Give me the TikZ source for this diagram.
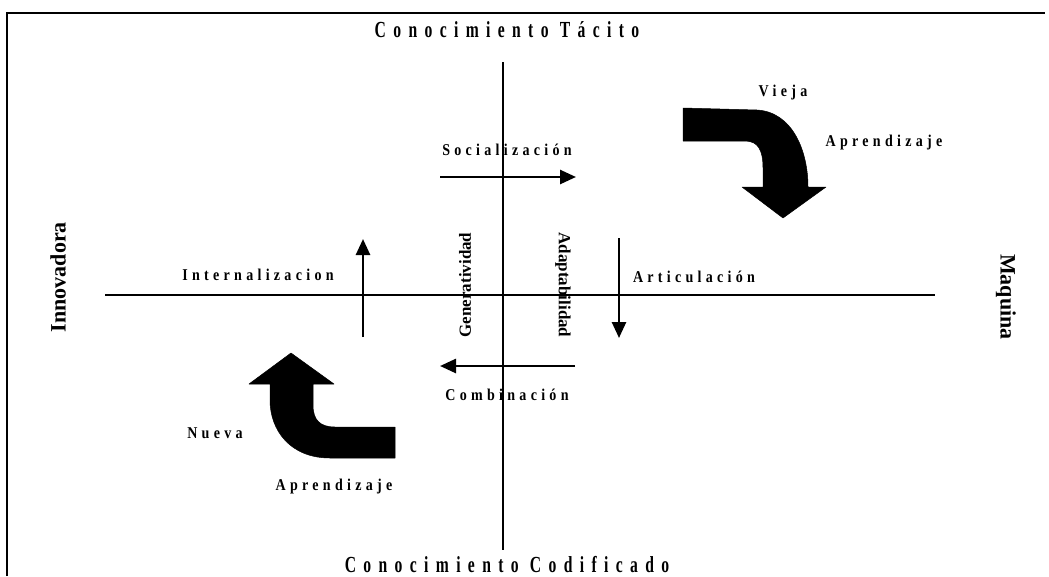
\documentclass[tikz,border=0pt]{standalone}
\usepackage{fontspec}
\setmainfont{Liberation Serif}
\newfontfamily\spacedfont[LetterSpace=26,FakeStretch=0.85]{Liberation Serif}
\newfontfamily\titlefont[LetterSpace=32,FakeStretch=0.68]{Liberation Serif}
\usetikzlibrary{arrows.meta}

\tikzset{
  axisline/.style={line width=1.2pt},
  flow/.style={line width=2.6pt, -{Triangle[length=16pt,width=14pt]}},
  bigarrow/.style={fill=black, draw=black, line width=0.5pt, line join=round},
  titletext/.style={inner sep=0pt, font=\titlefont\bfseries\fontsize{23}{27}\selectfont},
  sidetext/.style={inner sep=0pt, font=\bfseries\fontsize{22}{26}\selectfont},
  midtext/.style={inner sep=0pt, font=\bfseries\fontsize{17}{20}\selectfont},
  spaced/.style={inner sep=0pt, font=\spacedfont\bfseries\fontsize{16.5}{19}\selectfont}
}

\begin{document}
\begin{tikzpicture}[x=1pt, y=-1pt]
    \useasboundingbox (0,0) rectangle (1049,576);

    % Frame
    \draw[line width=1.6pt] (7,576) -- (7,13) -- (1045,13);

    % Axes
    \coordinate (axtop) at (503,62);
    \coordinate (axbot) at (503,550);
    \coordinate (axleft) at (105,295);
    \coordinate (axright) at (935,295);
    \draw[axisline] (axtop) -- (axbot);
    \draw[axisline] (axleft) -- (axright);

    % Axis labels
    \node[titletext] (tacito) at (507,30) {Conocimiento Tácito};
    \node[titletext] (codificado) at (507,565) {Conocimiento Codificado};
    \node[sidetext, rotate=90] (innovadora) at (58,277) {Innovadora};
    \node[sidetext, rotate=-90] (maquina) at (1006,297) {Maquina};
    \node[midtext, rotate=90] (generatividad) at (465,285) {Generatividad};
    \node[midtext, rotate=-90] (adaptabilidad) at (563,285) {Adaptabilidad};

    % Conversion steps
    \node[spaced] (socializacion) at (507,150) {Socialización};
    \node[spaced] (internalizacion) at (258,275) {Internalizacion};
    \node[spaced] (articulacion) at (694,277) {Articulación};
    \node[spaced] (combinacion) at (507,395) {Combinación};

    \coordinate (socA) at (440,177);
    \coordinate (socB) at (576,177);
    \coordinate (artA) at (619,238);
    \coordinate (artB) at (619,338);
    \coordinate (comA) at (575,366);
    \coordinate (comB) at (440,366);
    \coordinate (intA) at (363,337);
    \coordinate (intB) at (363,239);
    \draw[flow] (socA) -- (socB);
    \draw[flow] (artA) -- (artB);
    \draw[flow] (comA) -- (comB);
    \draw[flow] (intA) -- (intB);

    % Old learning
    \node[spaced] (vieja) at (783,93) {Vieja};
    \node[spaced] (aprendizajeA) at (884,143) {Aprendizaje};
    \fill[bigarrow] (683,108) -- (757,110) .. controls (792,112) and (808,150) .. (808,187)
        -- (826,187) -- (783,218) -- (742,187) -- (763,187) -- (763,168)
        .. controls (763,150) and (758,141) .. (745,141) -- (683,141) -- cycle;

    % New learning
    \node[spaced] (nueva) at (215,433) {Nueva};
    \node[spaced] (aprendizajeB) at (334,487) {Aprendizaje};
    \fill[bigarrow] (291,353) -- (334,384) -- (313,384) -- (313,405)
        .. controls (313,420) and (320,427) .. (335,427) -- (395,427) -- (395,458)
        -- (330,458) .. controls (290,458) and (270,430) .. (270,400)
        -- (270,384) -- (249,384) -- cycle;
\end{tikzpicture}
\end{document}
